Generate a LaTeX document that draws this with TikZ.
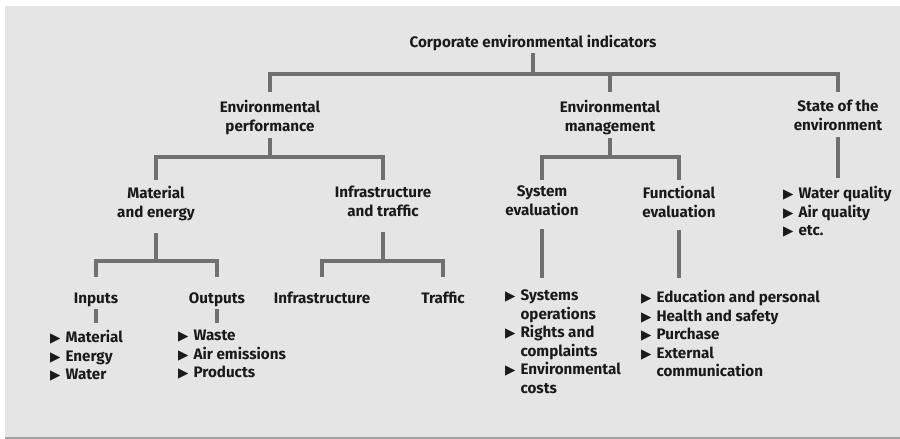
\documentclass[tikz,border=0pt]{standalone}
\usepackage{fontspec}
\setmainfont{Fira Sans}
\newfontfamily\symfont{DejaVu Sans}
\usetikzlibrary{positioning,calc}
\definecolor{panel}{HTML}{E5E5E5}
\definecolor{barink}{HTML}{707070}
\definecolor{rulegray}{HTML}{A3A3A3}
\definecolor{ink}{HTML}{1A1A1A}
\newcommand{\bul}{{\symfont\fontsize{13.5}{12}\selectfont ▶}\hspace{5pt}}
\newcommand{\bulgap}{\phantom{\bul}}
\tikzset{
  lvl/.style={align=center,inner sep=0pt,text=ink,
              font=\bfseries\fontsize{15.2}{18.5}\selectfont,
              execute at begin node=\strut,execute at end node=\strut},
  lst/.style={lvl,align=left,anchor=north west},
  bar/.style={draw=barink,line width=4pt}
}
\begin{document}
\begin{tikzpicture}[x=1pt,y=-1pt]
  \path[use as bounding box] (0,0) rectangle (900,439);
  \fill[panel] (5,6) rectangle (900,437.5);
  \draw[rulegray,line width=1.5pt] (5,438) -- (900,438);
  % levels
  \node[lvl,anchor=base] (root) at (533,47) {Corporate environmental indicators};
  \node[lvl,anchor=north] (perf) at (270,100) {Environmental\\performance};
  \node[lvl,anchor=north] (mgmt) at (610,100) {Environmental\\management};
  \node[lvl,anchor=north] (state) at (838,100) {State of the\\environment};
  \node[lvl,anchor=north] (mat) at (156,186) {Material\\and energy};
  \node[lvl,anchor=north] (infra) at (383,186) {Infrastructure\\and traffic};
  \node[lvl,anchor=north] (syseval) at (542,186) {System\\evaluation};
  \node[lvl,anchor=north] (funceval) at (679,186) {Functional\\evaluation};
  \node[lvl,anchor=base] (inputs) at (96,303) {Inputs};
  \node[lvl,anchor=base] (outputs) at (217,303) {Outputs};
  \node[lvl,anchor=base] (infrastr) at (322,303) {Infrastructure};
  \node[lvl,anchor=base] (traffic) at (443,303) {Traffic};
  % lists
  \node[lst] (statelist) at (783,186) {\bul Water quality\\\bul Air quality\\\bul etc.};
  \node[lst] (inlist) at (50,330) {\bul Material\\\bul Energy\\\bul Water};
  \node[lst] (outlist) at (178,330) {\bul Waste\\\bul Air emissions\\\bul Products};
  \node[lst] (syslist) at (505,290) {\bul Systems\\\bulgap operations\\
    \bul Rights and\\\bulgap complaints\\\bul Environmental\\\bulgap costs};
  \node[lst] (funclist) at (641,290) {\bul Education and personal\\
    \bul Health and safety\\\bul Purchase\\\bul External\\\bulgap communication};
  % bars
  \coordinate (bar0) at (0,74);
  \coordinate (bar1) at (0,157);
  \coordinate (bar2) at (0,261);
  \draw[bar] (root.south) -- (root |- bar0);
  \draw[bar] ([yshift=8pt]perf.north) -- (perf |- bar0) -- (state |- bar0)
    -- ([yshift=8pt]state.north);
  \draw[bar] (mgmt |- bar0) -- ([yshift=8pt]mgmt.north);
  \draw[bar] ([yshift=-1.5pt]perf.south) -- (perf |- bar1);
  \draw[bar] ([yshift=6pt]mat.north) -- (mat |- bar1) -- (infra |- bar1)
    -- ([yshift=6pt]infra.north);
  \draw[bar] ([yshift=-1.5pt]mgmt.south) -- (mgmt |- bar1);
  \draw[bar] ([yshift=6pt]syseval.north) -- (syseval |- bar1) -- (funceval |- bar1)
    -- ([yshift=6pt]funceval.north);
  \draw[bar] ([yshift=-1.5pt]state.south) -- ([yshift=8pt]state |- statelist.north);
  \draw[bar] ([yshift=-10.5pt]mat.south) -- (mat |- bar2);
  \draw[bar] ([yshift=13pt]inputs.north) -- (inputs |- bar2) -- (outputs |- bar2)
    -- ([yshift=13pt]outputs.north);
  \draw[bar] ([yshift=-10.5pt]infra.south) -- (infra |- bar2);
  \draw[bar] ([yshift=13pt]infrastr.north) -- (infrastr |- bar2) -- (traffic |- bar2)
    -- ([yshift=13pt]traffic.north);
  \draw[bar] ([yshift=-7.5pt]syseval.south) -- ([yshift=12pt]syseval |- syslist.north);
  \draw[bar] ([yshift=-7.5pt]funceval.south) -- ([yshift=12pt]funceval |- funclist.north);
  \draw[bar] (inputs.south) -- ([yshift=7pt]inputs |- inlist.north);
  \draw[bar] (outputs.south) -- ([yshift=7pt]outputs |- outlist.north);
\end{tikzpicture}
\end{document}
